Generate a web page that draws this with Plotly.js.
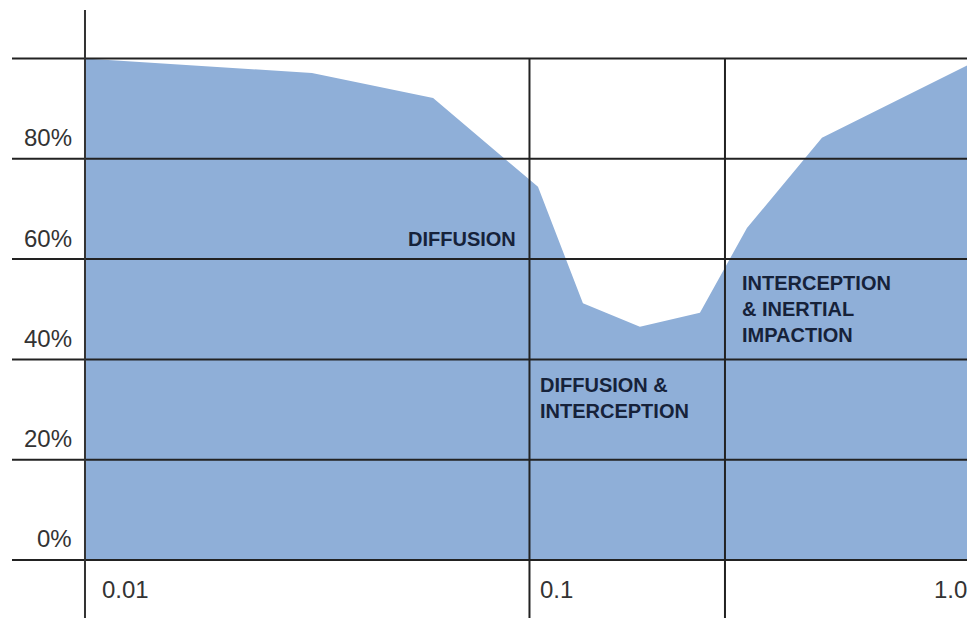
<!DOCTYPE html>
<html>
<head>
<meta charset="utf-8">
<script src="https://cdn.plot.ly/plotly-3.0.1.min.js"></script>
<style>
  html, body { margin: 0; padding: 0; background: #ffffff; overflow: hidden; }
  #chart { width: 967px; height: 618px; }
</style>
</head>
<body>
<div id="chart"></div>
<script>
// Particle size (log scale) vs. filtration efficiency (%)
const particleSize = [0.01, 0.0324, 0.0607, 0.1045, 0.1319, 0.1772, 0.2418, 0.3085, 0.455, 1.0];
const efficiency   = [100,  97.1,   92.1,   74.4,   51.2,   46.5,   49.3,   66.2,   84.2,  99.3];

const yTickVals   = [0, 20, 40, 60, 80, 100];
const yTickLabels = ['0%', '20%', '40%', '60%', '80%', ''];
const xTickVals   = [0.01, 0.1, 1.0];
const xTickLabels = ['0.01', '0.1', '1.0'];
const regionBounds = [0.1, 0.2753];
const regionLabels = ['DIFFUSION', 'DIFFUSION &<br>INTERCEPTION', 'INTERCEPTION<br>& INERTIAL<br>IMPACTION'];

const xRange = [-2.1642, -0.0157];
const yRange = [-11.57, 109.67];
const lineColor = '#222222';
const axisFont = { family: 'Liberation Sans, Arial, sans-serif', size: 24, color: '#333333' };
const regionFont = { family: 'Liberation Sans, Arial, sans-serif', size: 20, color: '#16223a', weight: 'bold' };

const shapes = [];
// horizontal grid lines
yTickVals.forEach(v => {
  shapes.push({ type: 'line', layer: 'above', xref: 'paper', yref: 'y', x0: 0, x1: 1, y0: v, y1: v,
    line: { color: lineColor, width: 2 } });
});
// y axis line
shapes.push({ type: 'line', layer: 'above', xref: 'x', yref: 'paper', x0: xTickVals[0], x1: xTickVals[0], y0: 0, y1: 1,
  line: { color: '#333333', width: 2 } });
// region boundaries
regionBounds.forEach(b => {
  shapes.push({ type: 'line', layer: 'above', xref: 'x', yref: 'y', x0: b, x1: b, y0: yRange[0], y1: 100,
    line: { color: lineColor, width: 2 } });
});

const annotations = [];
// y labels
yTickVals.forEach((v, i) => {
  if (!yTickLabels[i]) return;
  annotations.push({ xref: 'x', yref: 'y', x: Math.log10(xTickVals[0]), y: v, xanchor: 'right', yanchor: 'middle',
    xshift: -11, yshift: 21, text: yTickLabels[i], showarrow: false, font: axisFont });
});
// x labels
annotations.push({ xref: 'x', yref: 'y', x: Math.log10(xTickVals[0]), y: 0, xanchor: 'left', yanchor: 'middle',
  xshift: 15, yshift: -30, text: xTickLabels[0], showarrow: false, font: axisFont });
annotations.push({ xref: 'x', yref: 'y', x: Math.log10(xTickVals[1]), y: 0, xanchor: 'left', yanchor: 'middle',
  xshift: 9, yshift: -30, text: xTickLabels[1], showarrow: false, font: axisFont });
annotations.push({ xref: 'paper', yref: 'y', x: 1, y: 0, xanchor: 'right', yanchor: 'middle',
  xshift: 2, yshift: -30, text: xTickLabels[2], showarrow: false, font: axisFont });
// region labels
annotations.push({ xref: 'x', yref: 'y', x: Math.log10(regionBounds[0]), y: 60, xanchor: 'right', yanchor: 'middle',
  xshift: -11, yshift: 20, text: regionLabels[0], showarrow: false, font: regionFont });
annotations.push({ xref: 'x', yref: 'y', x: Math.log10(regionBounds[0]), y: 40, xanchor: 'left', yanchor: 'top',
  xshift: 9, yshift: -13, text: regionLabels[1], showarrow: false, font: regionFont, align: 'left' });
annotations.push({ xref: 'x', yref: 'y', x: Math.log10(regionBounds[1]), y: 60, xanchor: 'left', yanchor: 'top',
  xshift: 15, yshift: -11, text: regionLabels[2], showarrow: false, font: regionFont, align: 'left' });

const trace = {
  type: 'scatter',
  mode: 'lines',
  x: particleSize,
  y: efficiency,
  fill: 'tozeroy',
  fillcolor: '#8fafd8',
  line: { width: 0, color: '#8fafd8' },
  hoverinfo: 'skip'
};

const layout = {
  width: 967,
  height: 618,
  margin: { l: 12, r: 0, t: 10, b: 0 },
  paper_bgcolor: '#ffffff',
  plot_bgcolor: '#ffffff',
  showlegend: false,
  xaxis: { type: 'log', range: xRange, showgrid: false, zeroline: false, showline: false,
    showticklabels: false, ticks: '' },
  yaxis: { range: yRange, showgrid: false, zeroline: false, showline: false,
    showticklabels: false, ticks: '' },
  shapes: shapes,
  annotations: annotations
};

Plotly.newPlot('chart', [trace], layout, { displayModeBar: false, staticPlot: true });
</script>
</body>
</html>
